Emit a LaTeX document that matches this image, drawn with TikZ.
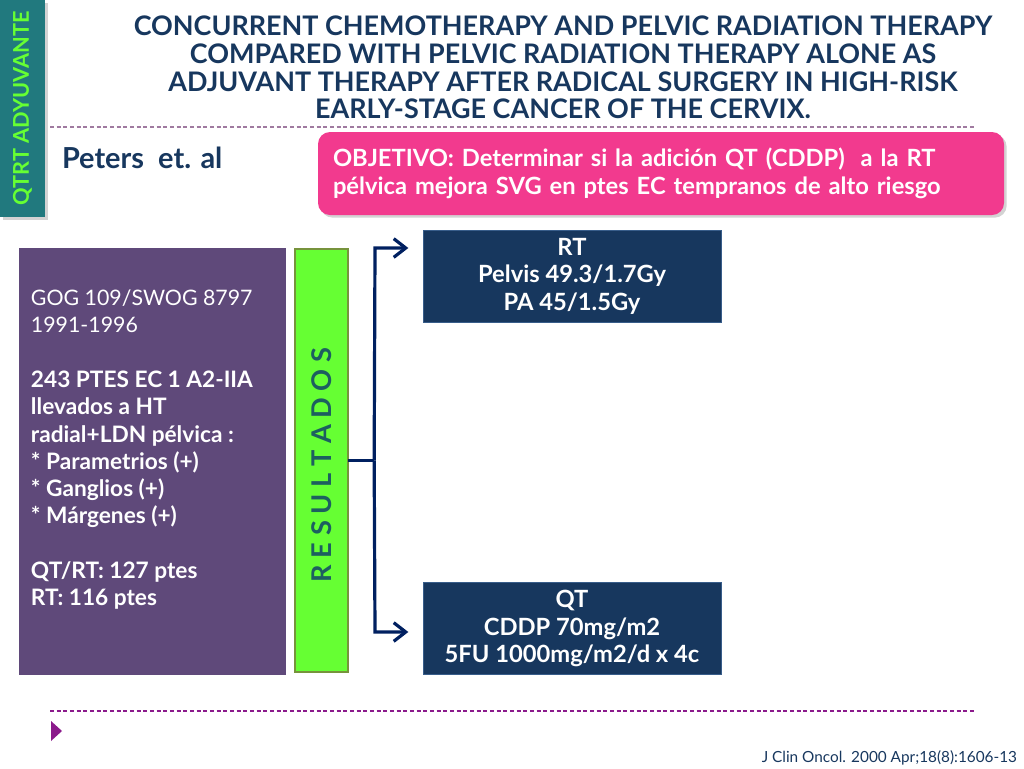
\documentclass[tikz,border=0pt]{standalone}
\usepackage{fontspec}
\setmainfont{Lato}
\usetikzlibrary{arrows.meta,shadows,positioning}

\definecolor{navy}{HTML}{17375E}
\definecolor{navyline}{HTML}{385D8A}
\definecolor{teal}{HTML}{21797E}
\definecolor{lime}{HTML}{66FF33}
\definecolor{limeline}{HTML}{77933C}
\definecolor{pinkbox}{HTML}{F23A8E}
\definecolor{plum}{HTML}{5F497A}
\definecolor{arrowblue}{HTML}{002060}
\definecolor{restext}{HTML}{1D5F60}
\definecolor{rulegray}{HTML}{A07AA0}
\definecolor{rulepurple}{HTML}{8B1A8B}

\begin{document}
\begin{tikzpicture}[%
    x=0.75pt, y=-0.75pt,          % work in pixels, y going down
    >={Straight Barb[length=9pt,width=14pt]},
    every node/.style={inner sep=0pt, outer sep=0pt},
    ]
% -------------------------------------------------
% A few box styles
\tikzset{
  base/.style={align=center, text=white, font=\fontsize{17.8}{20.6}\selectfont\bfseries},
  arm/.style={base, draw=navyline, fill=navy, minimum width=223.5pt, minimum height=69pt},
  shade/.style={drop shadow={opacity=.35, shadow xshift=2pt, shadow yshift=-2pt}},
  % Connector and rule styles
  link/.style={draw=arrowblue, line width=2.4pt},
  dline/.style={line width=.8pt, dash pattern=on 3pt off 2pt},
  bf/.style={font=\fontsize{17}{20.45}\selectfont\bfseries},
  it/.style={font={\fontsize{11.5}{13}\selectfont}, text=navy}
}
\useasboundingbox (0,0) rectangle (1024,768);
% -------------------------------------------------
% Header

\node [shade, fill=teal, minimum width=33.75pt, minimum height=162.75pt] (tag) at (22.5,108.5) {};
\node [rotate=90, text=lime, font=\fontsize{16.3}{19}\selectfont\bfseries] (tagtxt) at (tag) {QTRT ADYUVANTE};
\node [anchor=north, align=center, text=navy, font=\fontsize{20.2}{20.8}\selectfont\bfseries] (title) at (563,16)
  {CONCURRENT CHEMOTHERAPY AND PELVIC RADIATION THERAPY\\
   COMPARED WITH PELVIC RADIATION THERAPY ALONE AS\\
   ADJUVANT THERAPY AFTER RADICAL SURGERY IN HIGH-RISK\\
   EARLY-STAGE CANCER OF THE CERVIX.};
\draw [dline, rulegray] (50,127) -- (975,127);
\node [anchor=base west, text=navy, font=\fontsize{21.7}{24}\selectfont\bfseries] (auth) at (62,168) {Peters\ \ et. al};
\node [base, shade, fill=pinkbox, rounded corners=9pt, align=left, text width=492pt,
       inner xsep=11.25pt, minimum height=62.25pt] (obj) at (661,173.5)
  {OBJETIVO: Determinar si la adición QT (CDDP)\ \ a la RT\\
   pélvica mejora SVG en ptes EC tempranos de alto riesgo};

% -------------------------------------------------
% Study box, results bar and the two arms
\node [fill=plum, minimum width=200.25pt, minimum height=320.25pt] (info) at (152.5,461) {};
\node [anchor=north west, align=left, text=white, font=\fontsize{16}{20.45}\selectfont] (infotxt) at (31,290)
  {GOG 109/SWOG 8797\\
   1991-1996\\[20.45pt]
   {\bfseries\fontsize{17}{20.45}\selectfont 243 PTES EC 1 A2-IIA}\\
   {\bfseries\fontsize{17}{20.45}\selectfont llevados a HT}\\
   {\bfseries\fontsize{17}{20.45}\selectfont radial+LDN pélvica :}\\
   {\bfseries\fontsize{17}{20.45}\selectfont * Parametrios (+)}\\
   {\bfseries\fontsize{17}{20.45}\selectfont * Ganglios (+)}\\
   {\bfseries\fontsize{17}{20.45}\selectfont * Márgenes (+)}\\[20.45pt]
   {\bfseries\fontsize{17}{20.45}\selectfont QT/RT: 127 ptes}\\
   {\bfseries\fontsize{17}{20.45}\selectfont RT: 116 ptes}};
\node [fill=lime, draw=limeline, line width=1.5pt, minimum width=40pt, minimum height=317.5pt] (res) at (321.5,460.5) {};
\node [rotate=90, text=restext, font=\fontsize{20.4}{22}\selectfont\bfseries] (restxt) at (322,465) {R E S U L T A D O S};

\node [arm] (rt) at (572,276) {RT\\ Pelvis 49.3/1.7Gy\\ PA 45/1.5Gy};
\node [arm] (qt) at (572,628.5) {QT\\ CDDP 70mg/m2\\ 5FU 1000mg/m2/d x 4c};

\path (res.east) ++(26,0) coordinate (hub);
\coordinate (up) at (375,248);
\coordinate (dn) at (375,632);
\draw [link] (res.east) -- (hub);
\draw [link, ->, shorten >=11pt] (hub) -- (up) -- (up -| rt.west);
\draw [link, ->, shorten >=11pt] (hub) -- (dn) -- (dn -| qt.west);

% -------------------------------------------------
% Footer
\draw [dline, rulepurple] (50,711) -- (975,711);
\fill [rulepurple] (51,721) -- (62,731) -- (51,741) -- cycle;
\node [it, anchor=base east] (cite) at (1017,762) {J Clin Oncol. 2000 Apr;18(8):1606-13};
\end{tikzpicture}
\end{document}
